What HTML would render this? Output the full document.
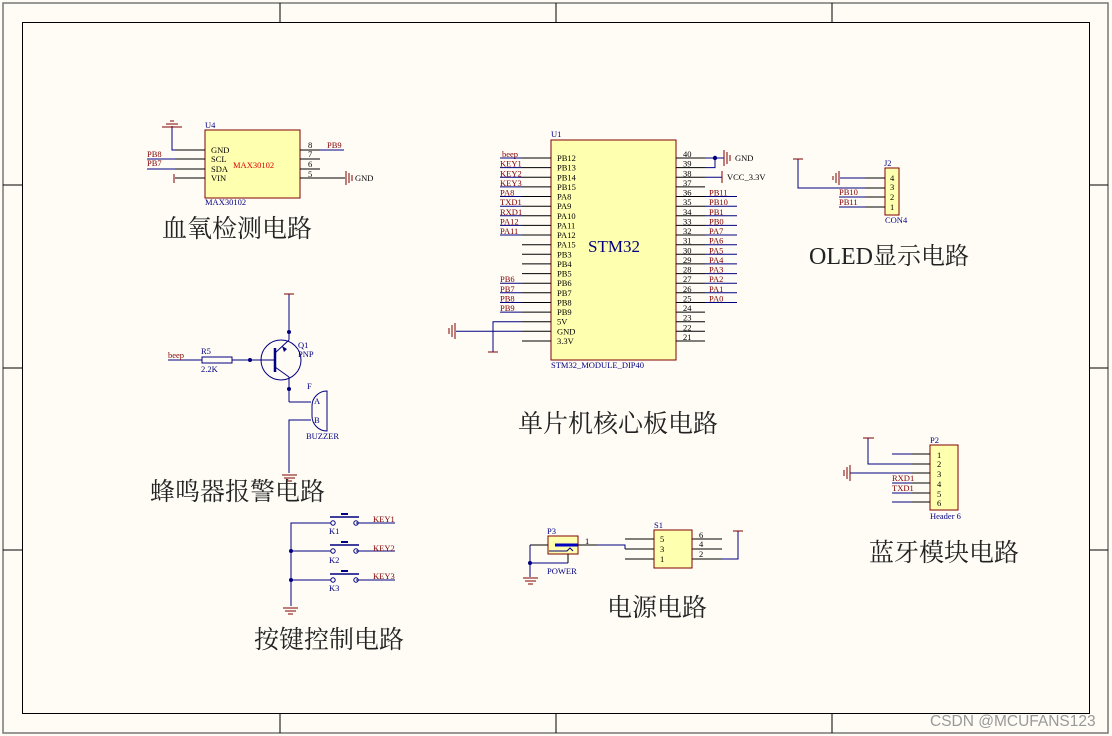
<!DOCTYPE html>
<html><head><meta charset="utf-8"><style>
html,body{margin:0;padding:0;background:#fffcf6;}
svg{display:block}
.t{font-family:"Liberation Serif",serif;font-size:8.5px;}
.n{fill:#800000}
.b{fill:#000080}
.k{fill:#000}
.cn{font-family:"Liberation Serif","Noto Serif CJK SC","Noto Sans CJK SC",serif;font-size:25px;fill:#222}
</style></head><body>
<svg width="1112" height="736" viewBox="0 0 1112 736" xmlns="http://www.w3.org/2000/svg">
<rect x="0" y="0" width="1112" height="736" fill="#fffcf6"/>
<rect x="3" y="3" width="1105" height="730" fill="none" stroke="#777" stroke-width="1.5"/>
<rect x="22.5" y="22.5" width="1067" height="691" fill="none" stroke="#000" stroke-width="1"/>
<g stroke="#000" stroke-width="1">
<line x1="280" y1="3" x2="280" y2="22"/><line x1="556" y1="3" x2="556" y2="22"/><line x1="832" y1="3" x2="832" y2="22"/>
<line x1="280" y1="714" x2="280" y2="733"/><line x1="556" y1="714" x2="556" y2="733"/><line x1="832" y1="714" x2="832" y2="733"/>
<line x1="3" y1="185" x2="22" y2="185"/><line x1="3" y1="368" x2="22" y2="368"/><line x1="3" y1="550" x2="22" y2="550"/>
<line x1="1090" y1="185" x2="1108" y2="185"/><line x1="1090" y1="368" x2="1108" y2="368"/><line x1="1090" y1="550" x2="1108" y2="550"/>
</g>
<text x="930" y="726" style="font-family:'Liberation Sans',sans-serif;font-size:15.5px;fill:#999">CSDN @MCUFANS123</text>

<!-- MAX30102 -->
<rect x="205" y="130" width="95" height="68" fill="#ffffb0" stroke="#800000"/>
<text class="t b" x="205" y="128">U4</text>
<text class="t b" x="205" y="205">MAX30102</text>
<text class="t" x="233" y="168" fill="#e00000">MAX30102</text>
<g class="t k"><text x="211" y="153">GND</text><text x="211" y="162">SCL</text><text x="211" y="172">SDA</text><text x="211" y="181">VIN</text>
<text x="308" y="148">8</text><text x="308" y="157">7</text><text x="308" y="167">6</text><text x="308" y="177">5</text></g>
<g stroke="#000"><line x1="175" y1="150" x2="205" y2="150"/><line x1="175" y1="159" x2="205" y2="159"/><line x1="175" y1="169" x2="205" y2="169"/><line x1="175" y1="178" x2="205" y2="178"/>
<line x1="300" y1="150" x2="320" y2="150"/><line x1="300" y1="159" x2="320" y2="159"/><line x1="300" y1="169" x2="320" y2="169"/><line x1="300" y1="178" x2="345" y2="178"/></g>
<g stroke="#000080"><polyline points="172,126 172,150 175,150" fill="none"/><line x1="147" y1="159" x2="175" y2="159"/><line x1="147" y1="169" x2="175" y2="169"/><line x1="320" y1="150" x2="344" y2="150"/></g>
<g stroke="#800000"><line x1="162" y1="127" x2="182" y2="127"/><line x1="166" y1="124" x2="178" y2="124"/><line x1="170" y1="121" x2="174" y2="121"/><line x1="174" y1="174" x2="174" y2="183"/>
<line x1="346" y1="171" x2="346" y2="185"/><line x1="349" y1="173" x2="349" y2="183"/><line x1="352" y1="175" x2="352" y2="181"/></g>
<text class="t n" x="147" y="157">PB8</text><text class="t n" x="147" y="166">PB7</text><text class="t n" x="327" y="148">PB9</text>
<text class="t k" x="355" y="181">GND</text>
<text class="cn" x="162" y="237">血氧检测电路</text>

<!-- STM32 -->
<rect x="551" y="140" width="125" height="220" fill="#ffffb0" stroke="#800000"/>
<text class="t b" x="551" y="137">U1</text>
<text class="t b" x="551" y="368">STM32_MODULE_DIP40</text>
<text x="588" y="252" style="font-family:'Liberation Serif',serif;font-size:17px;fill:#000080">STM32</text>
<g stroke="#000">
<line x1="522" y1="158" x2="551" y2="158"/><line x1="522" y1="167.6" x2="551" y2="167.6"/><line x1="522" y1="177.3" x2="551" y2="177.3"/><line x1="522" y1="186.9" x2="551" y2="186.9"/><line x1="522" y1="196.5" x2="551" y2="196.5"/><line x1="522" y1="206.2" x2="551" y2="206.2"/><line x1="522" y1="215.8" x2="551" y2="215.8"/><line x1="522" y1="225.4" x2="551" y2="225.4"/><line x1="522" y1="235" x2="551" y2="235"/><line x1="522" y1="244.7" x2="551" y2="244.7"/><line x1="522" y1="254.3" x2="551" y2="254.3"/><line x1="522" y1="263.9" x2="551" y2="263.9"/><line x1="522" y1="273.6" x2="551" y2="273.6"/><line x1="522" y1="283.2" x2="551" y2="283.2"/><line x1="522" y1="292.8" x2="551" y2="292.8"/><line x1="522" y1="302.5" x2="551" y2="302.5"/><line x1="522" y1="312.1" x2="551" y2="312.1"/><line x1="522" y1="321.7" x2="551" y2="321.7"/><line x1="522" y1="331.3" x2="551" y2="331.3"/><line x1="522" y1="341" x2="551" y2="341"/>
</g>
<g stroke="#000">
<line x1="676" y1="158" x2="705" y2="158"/><line x1="676" y1="167.6" x2="705" y2="167.6"/><line x1="676" y1="177.3" x2="705" y2="177.3"/><line x1="676" y1="186.9" x2="705" y2="186.9"/><line x1="676" y1="196.5" x2="705" y2="196.5"/><line x1="676" y1="206.2" x2="705" y2="206.2"/><line x1="676" y1="215.8" x2="705" y2="215.8"/><line x1="676" y1="225.4" x2="705" y2="225.4"/><line x1="676" y1="235" x2="705" y2="235"/><line x1="676" y1="244.7" x2="705" y2="244.7"/><line x1="676" y1="254.3" x2="705" y2="254.3"/><line x1="676" y1="263.9" x2="705" y2="263.9"/><line x1="676" y1="273.6" x2="705" y2="273.6"/><line x1="676" y1="283.2" x2="705" y2="283.2"/><line x1="676" y1="292.8" x2="705" y2="292.8"/><line x1="676" y1="302.5" x2="705" y2="302.5"/><line x1="676" y1="312.1" x2="705" y2="312.1"/><line x1="676" y1="321.7" x2="705" y2="321.7"/><line x1="676" y1="331.3" x2="705" y2="331.3"/><line x1="676" y1="341" x2="705" y2="341"/>
</g>
<g class="t k">
<text x="557" y="161">PB12</text><text x="557" y="170.6">PB13</text><text x="557" y="180.3">PB14</text><text x="557" y="189.9">PB15</text><text x="557" y="199.5">PA8</text><text x="557" y="209.2">PA9</text><text x="557" y="218.8">PA10</text><text x="557" y="228.4">PA11</text><text x="557" y="238">PA12</text><text x="557" y="247.7">PA15</text><text x="557" y="257.3">PB3</text><text x="557" y="266.9">PB4</text><text x="557" y="276.6">PB5</text><text x="557" y="286.2">PB6</text><text x="557" y="295.8">PB7</text><text x="557" y="305.5">PB8</text><text x="557" y="315.1">PB9</text><text x="557" y="324.7">5V</text><text x="557" y="334.3">GND</text><text x="557" y="344">3.3V</text>
<text x="683" y="157">40</text><text x="683" y="166.6">39</text><text x="683" y="176.3">38</text><text x="683" y="185.9">37</text><text x="683" y="195.5">36</text><text x="683" y="205.2">35</text><text x="683" y="214.8">34</text><text x="683" y="224.4">33</text><text x="683" y="234">32</text><text x="683" y="243.7">31</text><text x="683" y="253.3">30</text><text x="683" y="262.9">29</text><text x="683" y="272.6">28</text><text x="683" y="282.2">27</text><text x="683" y="291.8">26</text><text x="683" y="301.5">25</text><text x="683" y="311.1">24</text><text x="683" y="320.7">23</text><text x="683" y="330.3">22</text><text x="683" y="340">21</text>
</g>
<g class="t n">
<text x="502" y="157">beep</text><text x="500" y="166.6">KEY1</text><text x="500" y="176.3">KEY2</text><text x="500" y="185.9">KEY3</text><text x="500" y="195.5">PA8</text><text x="500" y="205.2">TXD1</text><text x="500" y="214.8">RXD1</text><text x="500" y="224.4">PA12</text><text x="500" y="234">PA11</text>
<text x="500" y="282.2">PB6</text><text x="500" y="291.8">PB7</text><text x="500" y="301.5">PB8</text><text x="500" y="311.1">PB9</text>
<text x="709" y="195.5">PB11</text><text x="709" y="205.2">PB10</text><text x="709" y="214.8">PB1</text><text x="709" y="224.4">PB0</text><text x="709" y="234">PA7</text><text x="709" y="243.7">PA6</text><text x="709" y="253.3">PA5</text><text x="709" y="262.9">PA4</text><text x="709" y="272.6">PA3</text><text x="709" y="282.2">PA2</text><text x="709" y="291.8">PA1</text><text x="709" y="301.5">PA0</text>
</g>
<g stroke="#000080">
<line x1="500" y1="158" x2="522" y2="158"/><line x1="500" y1="167.6" x2="522" y2="167.6"/><line x1="500" y1="177.3" x2="522" y2="177.3"/><line x1="500" y1="186.9" x2="522" y2="186.9"/><line x1="500" y1="196.5" x2="522" y2="196.5"/><line x1="500" y1="206.2" x2="522" y2="206.2"/><line x1="500" y1="215.8" x2="522" y2="215.8"/><line x1="500" y1="225.4" x2="522" y2="225.4"/><line x1="500" y1="235" x2="522" y2="235"/>
<line x1="500" y1="283.2" x2="522" y2="283.2"/><line x1="500" y1="292.8" x2="522" y2="292.8"/><line x1="500" y1="302.5" x2="522" y2="302.5"/><line x1="500" y1="312.1" x2="522" y2="312.1"/>
<line x1="705" y1="196.5" x2="737" y2="196.5"/><line x1="705" y1="206.2" x2="737" y2="206.2"/><line x1="705" y1="215.8" x2="737" y2="215.8"/><line x1="705" y1="225.4" x2="737" y2="225.4"/><line x1="705" y1="235" x2="737" y2="235"/><line x1="705" y1="244.7" x2="737" y2="244.7"/><line x1="705" y1="254.3" x2="737" y2="254.3"/><line x1="705" y1="263.9" x2="737" y2="263.9"/><line x1="705" y1="273.6" x2="737" y2="273.6"/><line x1="705" y1="283.2" x2="737" y2="283.2"/><line x1="705" y1="292.8" x2="737" y2="292.8"/><line x1="705" y1="302.5" x2="737" y2="302.5"/>
<line x1="705" y1="158" x2="724" y2="158"/><polyline points="705,167.6 715,167.6 715,158" fill="none"/><line x1="705" y1="177.3" x2="722" y2="177.3"/>
<line x1="456" y1="331.3" x2="522" y2="331.3"/><polyline points="522,321.7 493,321.7 493,352" fill="none"/>
</g>
<circle cx="715" cy="158" r="2.2" fill="#000080"/>
<g stroke="#800000"><line x1="724" y1="150" x2="724" y2="166"/><line x1="727" y1="152" x2="727" y2="164"/><line x1="730" y1="155" x2="730" y2="161"/><line x1="722" y1="171" x2="722" y2="183"/>
<line x1="455" y1="323" x2="455" y2="339"/><line x1="452" y1="325" x2="452" y2="337"/><line x1="449" y1="328" x2="449" y2="334"/><line x1="488" y1="352" x2="498" y2="352"/></g>
<text class="t k" x="735" y="161">GND</text><text class="t k" x="727" y="180">VCC_3.3V</text>
<text class="cn" x="518" y="432">单片机核心板电路</text>

<!-- OLED J2 -->
<rect x="885" y="168" width="14" height="47" fill="#ffffb0" stroke="#800000"/>
<text class="t b" x="884" y="166">J2</text><text class="t b" x="885" y="223">CON4</text>
<g class="t k"><text x="890" y="181">4</text><text x="890" y="190">3</text><text x="890" y="200">2</text><text x="890" y="210">1</text></g>
<g stroke="#000"><line x1="865" y1="178" x2="885" y2="178"/><line x1="865" y1="188" x2="885" y2="188"/><line x1="865" y1="197" x2="885" y2="197"/><line x1="865" y1="207" x2="885" y2="207"/></g>
<g stroke="#000080"><line x1="840" y1="178" x2="865" y2="178"/><polyline points="798,159 798,188 865,188" fill="none"/><line x1="839" y1="197" x2="865" y2="197"/><line x1="839" y1="207" x2="865" y2="207"/></g>
<g stroke="#800000"><line x1="793" y1="159" x2="803" y2="159"/><line x1="839" y1="171" x2="839" y2="185"/><line x1="836" y1="173" x2="836" y2="183"/><line x1="833" y1="176" x2="833" y2="180"/></g>
<text class="t n" x="839" y="195">PB10</text><text class="t n" x="839" y="205">PB11</text>
<text class="cn" x="809" y="264" style="font-size:24px">OLED显示电路</text>

<!-- Bluetooth P2 -->
<rect x="930" y="445" width="28" height="65" fill="#ffffb0" stroke="#800000"/>
<text class="t b" x="930" y="443">P2</text><text class="t b" x="930" y="519">Header 6</text>
<g class="t k"><text x="937" y="458">1</text><text x="937" y="467">2</text><text x="937" y="477">3</text><text x="937" y="487">4</text><text x="937" y="497">5</text><text x="937" y="506">6</text></g>
<g stroke="#000"><line x1="912" y1="454" x2="930" y2="454"/><line x1="912" y1="464" x2="930" y2="464"/><line x1="912" y1="473" x2="930" y2="473"/><line x1="912" y1="483" x2="930" y2="483"/><line x1="912" y1="493" x2="930" y2="493"/><line x1="912" y1="502" x2="930" y2="502"/></g>
<g stroke="#000080"><line x1="892" y1="454" x2="912" y2="454"/><polyline points="868,438 868,464 912,464" fill="none"/><line x1="850" y1="473" x2="912" y2="473"/><line x1="892" y1="483" x2="912" y2="483"/><line x1="892" y1="493" x2="912" y2="493"/><line x1="892" y1="502" x2="912" y2="502"/></g>
<g stroke="#800000"><line x1="863" y1="438" x2="874" y2="438"/><line x1="850" y1="465" x2="850" y2="481"/><line x1="847" y1="467" x2="847" y2="479"/><line x1="844" y1="470" x2="844" y2="476"/></g>
<text class="t n" x="892" y="481">RXD1</text><text class="t n" x="892" y="491">TXD1</text>
<text class="cn" x="869" y="561">蓝牙模块电路</text>

<!-- Buzzer -->
<g stroke="#000080" fill="none">
<line x1="289" y1="294" x2="289" y2="333"/>
<circle cx="281" cy="360" r="20"/>
<line x1="275" y1="348" x2="275" y2="372" stroke-width="2.5"/>
<line x1="275" y1="360" x2="261" y2="360"/>
<line x1="275" y1="353" x2="289" y2="340"/><line x1="289" y1="340" x2="289" y2="333"/>
<line x1="275" y1="367" x2="289" y2="377"/><line x1="289" y1="377" x2="289" y2="402"/>
<polyline points="289,402 311,402"/><polyline points="311,420 289,420 289,473"/>
<line x1="168" y1="360" x2="202" y2="360"/><line x1="232" y1="360" x2="261" y2="360"/>
<rect x="202" y="357" width="30" height="6"/>
<path d="M327,391 A15,15 0 0 0 312,406 L312,416 A15,15 0 0 0 327,431 Z"/>
</g>
<polygon points="287,349 282,346 284,352" fill="#000080"/>
<circle cx="289" cy="332" r="2" fill="#000080"/><circle cx="250" cy="360" r="2" fill="#000080"/><circle cx="289" cy="389" r="2" fill="#000080"/>
<g stroke="#800000"><line x1="284" y1="294" x2="294" y2="294"/><line x1="282" y1="475" x2="297" y2="475"/><line x1="284" y1="478" x2="295" y2="478"/><line x1="287" y1="481" x2="292" y2="481"/>
<line x1="283" y1="608" x2="298" y2="608"/><line x1="285" y1="611" x2="296" y2="611"/><line x1="288" y1="614" x2="293" y2="614"/></g>
<text class="t n" x="168" y="358">beep</text>
<text class="t b" x="201" y="354">R5</text><text class="t b" x="201" y="372">2.2K</text>
<text class="t b" x="298" y="348">Q1</text><text class="t b" x="298" y="357">PNP</text>
<text class="t b" x="307" y="389">F</text><text class="t b" x="314" y="404">A</text><text class="t b" x="314" y="423">B</text>
<text class="t b" x="306" y="439">BUZZER</text>
<text class="cn" x="150" y="500">蜂鸣器报警电路</text>

<!-- Keys -->
<g stroke="#000080" fill="none">
<polyline points="291,606 291,523 331,523"/><line x1="291" y1="551" x2="331" y2="551"/><line x1="291" y1="580" x2="331" y2="580"/>
<line x1="356" y1="523" x2="395" y2="523"/><line x1="356" y1="551" x2="395" y2="551"/><line x1="356" y1="580" x2="395" y2="580"/>
<circle cx="333" cy="523" r="2.2"/><circle cx="356" cy="523" r="2.2"/><circle cx="333" cy="551" r="2.2"/><circle cx="356" cy="551" r="2.2"/><circle cx="333" cy="580" r="2.2"/><circle cx="356" cy="580" r="2.2"/>
<line x1="330" y1="517" x2="359" y2="517" stroke-width="1.5"/><line x1="341" y1="514" x2="348" y2="514" stroke-width="2"/>
<line x1="330" y1="545" x2="359" y2="545" stroke-width="1.5"/><line x1="341" y1="542" x2="348" y2="542" stroke-width="2"/>
<line x1="330" y1="574" x2="359" y2="574" stroke-width="1.5"/><line x1="341" y1="571" x2="348" y2="571" stroke-width="2"/>
</g>
<circle cx="291" cy="551" r="2" fill="#000080"/><circle cx="291" cy="580" r="2" fill="#000080"/>
<g class="t b"><text x="329" y="534">K1</text><text x="329" y="563">K2</text><text x="329" y="591">K3</text></g>
<g class="t n"><text x="373" y="522">KEY1</text><text x="373" y="551">KEY2</text><text x="373" y="579">KEY3</text></g>
<text class="cn" x="254" y="648">按键控制电路</text>

<!-- Power -->
<rect x="548" y="536" width="30" height="18" fill="#ffffb0" stroke="#800000"/>
<line x1="555" y1="545" x2="578" y2="545" stroke="#0000c0" stroke-width="3"/>
<polyline points="549,551 567,551 570,548 573,551" fill="none" stroke="#000080"/>
<text class="t b" x="547" y="534">P3</text><text class="t b" x="547" y="574">POWER</text><text class="t k" x="585" y="544">1</text>
<g stroke="#000"><line x1="530" y1="545" x2="548" y2="545"/><line x1="578" y1="545" x2="597" y2="545"/><line x1="568" y1="554" x2="568" y2="563"/>
<line x1="625" y1="539" x2="654" y2="539"/><line x1="625" y1="549" x2="654" y2="549"/><line x1="625" y1="559" x2="654" y2="559"/>
<line x1="692" y1="539" x2="722" y2="539"/><line x1="692" y1="549" x2="722" y2="549"/><line x1="692" y1="559" x2="722" y2="559"/></g>
<g stroke="#000080" fill="none"><polyline points="530,545 530,563 568,563"/><polyline points="597,545 625,545 625,549"/><polyline points="722,559 738,559 738,531"/><line x1="530" y1="563" x2="530" y2="577"/></g>
<circle cx="530" cy="563" r="2" fill="#000080"/>
<g stroke="#800000"><line x1="523" y1="578" x2="538" y2="578"/><line x1="525" y1="581" x2="536" y2="581"/><line x1="528" y1="584" x2="533" y2="584"/><line x1="733" y1="531" x2="743" y2="531"/></g>
<rect x="654" y="530" width="38" height="38" fill="#ffffb0" stroke="#800000"/>
<text class="t b" x="654" y="528">S1</text>
<g class="t k"><text x="660" y="542">5</text><text x="660" y="552">3</text><text x="660" y="562">1</text><text x="699" y="538">6</text><text x="699" y="547">4</text><text x="699" y="557">2</text></g>
<text class="cn" x="607" y="616">电源电路</text>
</svg>
</body></html>
